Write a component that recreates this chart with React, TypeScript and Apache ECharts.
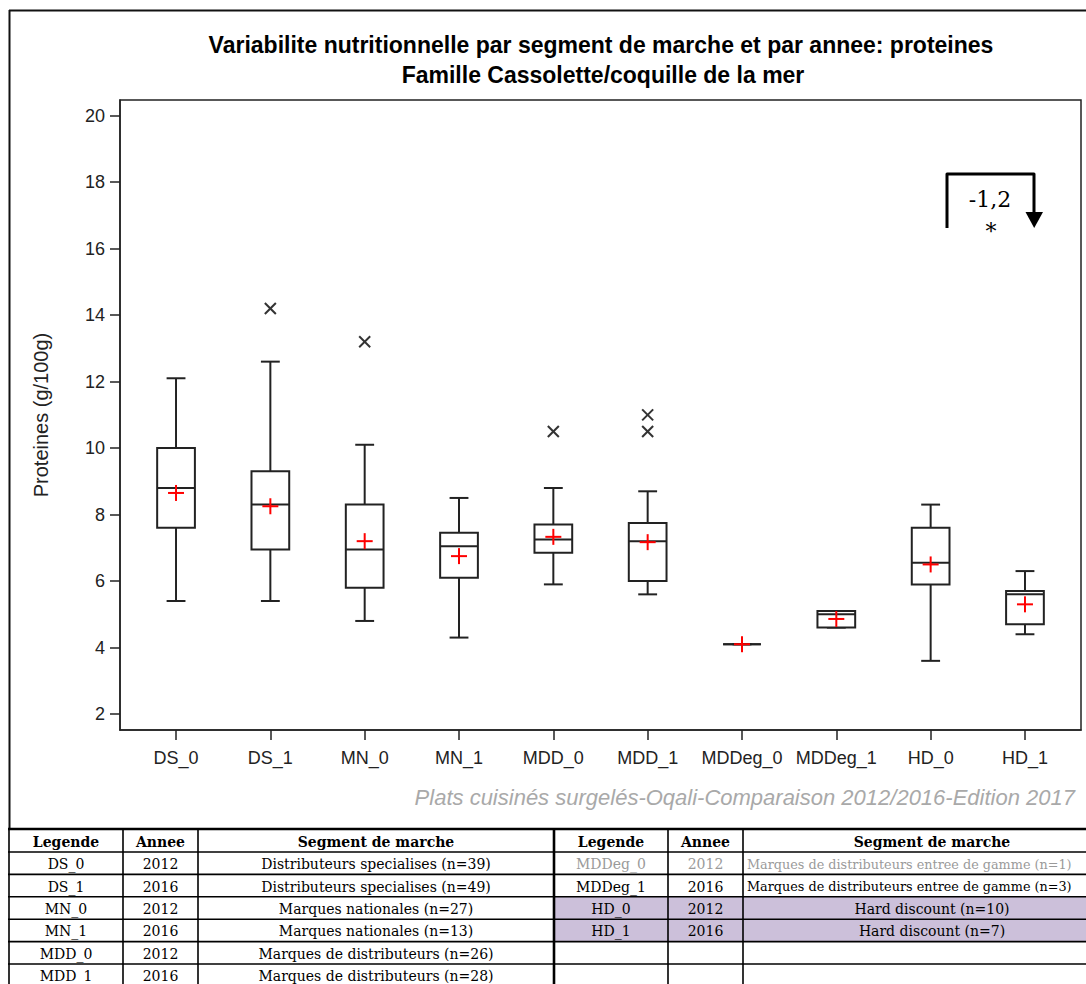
import React, { useEffect, useRef } from "react";
import * as echarts from "echarts";

// ---------- chart data ----------
const categories = ["DS_0", "DS_1", "MN_0", "MN_1", "MDD_0", "MDD_1", "MDDeg_0", "MDDeg_1", "HD_0", "HD_1"];
const whiskerLow = [5.4, 5.4, 4.8, 4.3, 5.9, 5.6, 4.1, 4.6, 3.6, 4.4];
const quartile1 = [7.6, 6.95, 5.8, 6.1, 6.85, 6.0, 4.1, 4.6, 5.9, 4.7];
const medians = [8.8, 8.3, 6.95, 7.05, 7.25, 7.2, 4.1, 5.0, 6.55, 5.6];
const quartile3 = [10.0, 9.3, 8.3, 7.45, 7.7, 7.75, 4.1, 5.1, 7.6, 5.7];
const whiskerHigh = [12.1, 12.6, 10.1, 8.5, 8.8, 8.7, 4.1, 5.1, 8.3, 6.3];
const means = [8.65, 8.25, 7.2, 6.75, 7.33, 7.17, 4.1, 4.86, 6.5, 5.3];
const outlierCategory = [1, 2, 4, 5, 5];
const outlierValue = [14.2, 13.2, 10.5, 10.5, 11.0];
const yTicks = [2, 4, 6, 8, 10, 12, 14, 16, 18, 20];
const xTicks = [0, 1, 2, 3, 4, 5, 6, 7, 8, 9];

const titleLines = [
  "Variabilite nutritionnelle par segment de marche et par annee: proteines",
  "Famille Cassolette/coquille de la mer",
];
const yAxisTitle = "Proteines (g/100g)";
const footerText = "Plats cuisinés surgelés-Oqali-Comparaison 2012/2016-Edition 2017";
const annotationValue = "-1,2";
const annotationStar = "*";

// ---------- legend table data ----------
const tableHeaders = ["Legende", "Annee", "Segment de marche"];
const leftLegend = ["DS_0", "DS_1", "MN_0", "MN_1", "MDD_0", "MDD_1"];
const leftYear = ["2012", "2016", "2012", "2016", "2012", "2016"];
const leftSegment = [
  "Distributeurs specialises (n=39)",
  "Distributeurs specialises (n=49)",
  "Marques nationales (n=27)",
  "Marques nationales (n=13)",
  "Marques de distributeurs (n=26)",
  "Marques de distributeurs (n=28)",
];
const rightLegend = ["MDDeg_0", "MDDeg_1", "HD_0", "HD_1", "", ""];
const rightYear = ["2012", "2016", "2012", "2016", "", ""];
const rightSegment = [
  "Marques de distributeurs entree de gamme (n=1)",
  "Marques de distributeurs entree de gamme (n=3)",
  "Hard discount (n=10)",
  "Hard discount (n=7)",
  "",
  "",
];

export default function App() {
  const ref = useRef<HTMLDivElement>(null);

  useEffect(() => {
    if (!ref.current) return;
    const chart = echarts.init(ref.current, undefined, { renderer: "svg" });

    const boxData = categories.map((_, i) => [
      i,
      whiskerLow[i],
      quartile1[i],
      medians[i],
      quartile3[i],
      whiskerHigh[i],
    ]);
    const meanData = categories.map((_, i) => [i, means[i]]);
    const outlierData = outlierCategory.map((c, i) => [c, outlierValue[i]]);

    const axisFont = "Liberation Sans, Arial, sans-serif";
    const serif = "DejaVu Serif, serif";

    // ---------- table graphics ----------
    const tableTop = 829;
    const headerH = 23;
    const rowH = 22.4;
    const leftCols = [9, 123, 198, 554];
    const rightCols = [554, 668, 743, 1121];
    const nRows = leftLegend.length;
    const rowY = (r: number) => tableTop + headerH + r * rowH;
    const tableGraphics: any[] = [];

    rightLegend.forEach((lg, r) => {
      if (lg.startsWith("HD")) {
        tableGraphics.push({
          type: "rect",
          shape: { x: rightCols[0], y: rowY(r), width: 1086 - rightCols[0], height: rowH },
          style: { fill: "#ccc0da" },
        });
      }
    });
    for (let r = -1; r <= nRows; r++) {
      const y = r < 0 ? tableTop : rowY(r);
      tableGraphics.push({
        type: "line",
        shape: { x1: 8, y1: y, x2: 1086, y2: y },
        style: { stroke: "#000", lineWidth: r < 0 ? 2.5 : 1.6 },
      });
    }
    [...leftCols, ...rightCols.slice(1, 3)].forEach((x) => {
      tableGraphics.push({
        type: "line",
        shape: { x1: x, y1: tableTop, x2: x, y2: 984 },
        style: { stroke: "#000", lineWidth: x === 554 ? 2.6 : 1.6 },
      });
    });
    const cellText = (text: string, x: number, y: number, opts: any = {}) => ({
      type: "text",
      x,
      y,
      style: {
        text,
        fill: opts.fill || "#000",
        font: `${opts.bold ? "bold " : ""}${opts.size || 14}px ${serif}`,
        align: opts.align || "center",
        verticalAlign: "middle",
      },
    });
    const center = (cols: number[], k: number) => (cols[k] + cols[k + 1]) / 2;
    tableHeaders.forEach((h, k) => {
      tableGraphics.push(cellText(h, center(leftCols, k), tableTop + headerH / 2 + 1, { bold: true }));
      tableGraphics.push(cellText(h, center(rightCols, k), tableTop + headerH / 2 + 1, { bold: true }));
    });
    for (let r = 0; r < nRows; r++) {
      const cy = rowY(r) + rowH / 2 + 1;
      tableGraphics.push(cellText(leftLegend[r], center(leftCols, 0), cy));
      tableGraphics.push(cellText(leftYear[r], center(leftCols, 1), cy));
      tableGraphics.push(cellText(leftSegment[r], center(leftCols, 2), cy));
      const grey = rightLegend[r] === "MDDeg_0" ? "#9a9a9a" : "#000";
      if (rightLegend[r]) {
        tableGraphics.push(cellText(rightLegend[r], center(rightCols, 0), cy, { fill: grey }));
        tableGraphics.push(cellText(rightYear[r], center(rightCols, 1), cy, { fill: grey }));
        const isLong = rightSegment[r].length > 30;
        tableGraphics.push(
          cellText(rightSegment[r], isLong ? 747 : center(rightCols, 2), cy, {
            fill: grey,
            align: isLong ? "left" : "center",
            size: isLong ? 12.8 : 14,
          })
        );
      }
    }

    const option: any = {
      animation: false,
      backgroundColor: "#fff",
      grid: {
        left: 120,
        right: 5,
        top: 100,
        bottom: 254,
        show: true,
        borderColor: "#222",
        borderWidth: 1.5,
      },
      xAxis: {
        type: "value",
        min: -0.594,
        max: 9.594,
        splitLine: { show: false },
        axisLine: { show: true, onZero: false, lineStyle: { color: "#222", width: 1.5 } },
        axisTick: {
          show: true,
          length: 10,
          customValues: xTicks,
          lineStyle: { color: "#222", width: 1.5 },
        },
        axisLabel: {
          customValues: xTicks,
          formatter: (v: number) => categories[Math.round(v)] ?? "",
          color: "#222",
          fontFamily: axisFont,
          fontSize: 18,
          margin: 19,
        },
      },
      yAxis: {
        type: "value",
        min: 1.52,
        max: 20.47,
        name: yAxisTitle,
        nameLocation: "middle",
        nameRotate: 90,
        nameGap: 69,
        nameTextStyle: { fontFamily: axisFont, fontSize: 20, color: "#222" },
        splitLine: { show: false },
        axisLine: { show: true, onZero: false, lineStyle: { color: "#222", width: 1.5 } },
        axisTick: {
          show: true,
          length: 10,
          customValues: yTicks,
          lineStyle: { color: "#222", width: 1.5 },
        },
        axisLabel: {
          customValues: yTicks,
          color: "#222",
          fontFamily: axisFont,
          fontSize: 18,
          margin: 15,
        },
      },
      series: [
        {
          type: "custom",
          name: "boxes",
          data: boxData,
          encode: { x: 0, y: [1, 2, 3, 4, 5] },
          renderItem: (params: any, api: any) => {
            const i = api.value(0);
            const lo = api.coord([i, api.value(1)]);
            const b1 = api.coord([i, api.value(2)]);
            const md = api.coord([i, api.value(3)]);
            const b3 = api.coord([i, api.value(4)]);
            const hi = api.coord([i, api.value(5)]);
            const halfBox = api.size([0.4, 0])[0] / 2;
            const halfCap = api.size([0.2, 0])[0] / 2;
            const x = lo[0];
            const st = { stroke: "#222", lineWidth: 2, fill: "none" };
            return {
              type: "group",
              children: [
                { type: "line", shape: { x1: x, y1: lo[1], x2: x, y2: b1[1] }, style: st },
                { type: "line", shape: { x1: x, y1: b3[1], x2: x, y2: hi[1] }, style: st },
                { type: "line", shape: { x1: x - halfCap, y1: lo[1], x2: x + halfCap, y2: lo[1] }, style: st },
                { type: "line", shape: { x1: x - halfCap, y1: hi[1], x2: x + halfCap, y2: hi[1] }, style: st },
                {
                  type: "rect",
                  shape: { x: x - halfBox, y: b3[1], width: halfBox * 2, height: b1[1] - b3[1] },
                  style: { ...st, fill: "#fff" },
                },
                { type: "line", shape: { x1: x - halfBox, y1: md[1], x2: x + halfBox, y2: md[1] }, style: st },
              ],
            };
          },
        },
        {
          type: "custom",
          name: "means",
          data: meanData,
          encode: { x: 0, y: 1 },
          renderItem: (params: any, api: any) => {
            const p = api.coord([api.value(0), api.value(1)]);
            const st = { stroke: "#ff0000", lineWidth: 2 };
            return {
              type: "group",
              children: [
                { type: "line", shape: { x1: p[0] - 8, y1: p[1], x2: p[0] + 8, y2: p[1] }, style: st },
                { type: "line", shape: { x1: p[0], y1: p[1] - 8, x2: p[0], y2: p[1] + 8 }, style: st },
              ],
            };
          },
        },
        {
          type: "custom",
          name: "outliers",
          data: outlierData,
          encode: { x: 0, y: 1 },
          renderItem: (params: any, api: any) => {
            const p = api.coord([api.value(0), api.value(1)]);
            const st = { stroke: "#333", lineWidth: 2 };
            const d = 5.5;
            return {
              type: "group",
              children: [
                { type: "line", shape: { x1: p[0] - d, y1: p[1] - d, x2: p[0] + d, y2: p[1] + d }, style: st },
                { type: "line", shape: { x1: p[0] - d, y1: p[1] + d, x2: p[0] + d, y2: p[1] - d }, style: st },
              ],
            };
          },
        },
      ],
      graphic: [
        { type: "line", shape: { x1: 9.5, y1: 10, x2: 9.5, y2: 829 }, style: { stroke: "#111", lineWidth: 2 } },
        { type: "line", shape: { x1: 9, y1: 10.5, x2: 1086, y2: 10.5 }, style: { stroke: "#111", lineWidth: 2 } },
        {
          type: "text",
          x: 601,
          y: 45,
          style: {
            text: titleLines[0],
            font: `bold 23px ${axisFont}`,
            fill: "#000",
            align: "center",
            verticalAlign: "middle",
          },
        },
        {
          type: "text",
          x: 603,
          y: 75,
          style: {
            text: titleLines[1],
            font: `bold 23px ${axisFont}`,
            fill: "#000",
            align: "center",
            verticalAlign: "middle",
          },
        },
        {
          type: "text",
          x: 1075,
          y: 797,
          style: {
            text: footerText,
            font: `italic 22px ${axisFont}`,
            fill: "#a9a9a9",
            align: "right",
            verticalAlign: "middle",
          },
        },
        {
          type: "polyline",
          shape: { points: [[947, 228], [947, 174], [1034, 174], [1034, 214]] },
          style: { stroke: "#000", lineWidth: 3, lineJoin: "round", fill: "none" },
        },
        {
          type: "polygon",
          shape: { points: [[1025.5, 212], [1043, 212], [1034.2, 228]] },
          style: { fill: "#000" },
        },
        {
          type: "text",
          x: 990,
          y: 199,
          style: {
            text: annotationValue,
            font: `22px ${serif}`,
            fill: "#000",
            align: "center",
            verticalAlign: "middle",
          },
        },
        {
          type: "text",
          x: 991,
          y: 231,
          style: {
            text: annotationStar,
            font: `22px ${serif}`,
            fill: "#000",
            align: "center",
            verticalAlign: "middle",
          },
        },
        ...tableGraphics,
      ],
    };

    chart.setOption(option);
    return () => chart.dispose();
  }, []);

  return (
    <div
      ref={ref}
      style={{ position: "absolute", left: 0, top: 0, width: 1086, height: 984, background: "#fff" }}
    />
  );
}
